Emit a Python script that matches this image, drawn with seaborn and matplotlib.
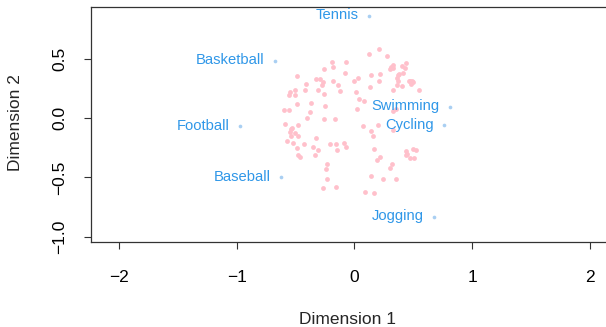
import matplotlib
matplotlib.use("Agg")
import matplotlib.pyplot as plt
import seaborn as sns
import pandas as pd

# Column (sport) coordinates on the first two dimensions
sports = ["Tennis", "Basketball", "Football", "Baseball", "Swimming", "Cycling", "Jogging"]
sport_dim1 = [0.12, -0.68, -0.97, -0.625, 0.81, 0.76, 0.68]
sport_dim2 = [0.86, 0.48, -0.07, -0.50, 0.095, -0.06, -0.83]

# Row (respondent) coordinates
resp_dim1 = [
    -0.19, -0.07, -0.26, -0.18, -0.08, -0.49, -0.33, -0.29, -0.18, -0.41,
    -0.27, -0.28, -0.14, 0.00, 0.03, -0.51, -0.42, -0.31, -0.55, -0.56,
    -0.51, -0.26, -0.12, 0.01, 0.04, 0.08, -0.37, -0.49, -0.25, 0.02,
    -0.60, -0.56, -0.38, -0.40, -0.26, -0.17, 0.21, 0.12, 0.28, 0.44,
    0.40, 0.33, 0.31, 0.30, 0.33, 0.43, 0.14, 0.22, 0.38, 0.41,
    0.37, 0.36, 0.21, 0.37, 0.36, 0.40, 0.46, 0.47, 0.49, 0.48,
    0.50, 0.13, 0.33, 0.55, 0.33, -0.59, -0.53, -0.48, -0.54, -0.55,
    -0.51, -0.48, -0.54, -0.33, -0.57, -0.52, -0.43, -0.35, -0.49, -0.31,
    -0.21, -0.16, -0.09, -0.07, -0.15, -0.48, -0.46, -0.34, -0.23, -0.24,
    -0.23, -0.27, -0.16, 0.07, 0.14, 0.20, 0.16, 0.33, 0.17, 0.19,
    0.22, 0.30, 0.32, 0.44, 0.44, 0.45, 0.50, 0.52, 0.47, 0.51,
    0.14, 0.24, 0.35, 0.09, 0.17, 0.35,
]
resp_dim2 = [
    0.47, 0.47, 0.41, 0.43, 0.38, 0.35, 0.33, 0.33, 0.31, 0.29,
    0.30, 0.28, 0.28, 0.31, 0.34, 0.24, 0.24, 0.24, 0.22, 0.19,
    0.19, 0.20, 0.23, 0.22, 0.16, 0.14, 0.13, 0.12, 0.10, 0.08,
    0.07, 0.07, 0.05, 0.00, -0.01, -0.01, 0.58, 0.54, 0.52, 0.46,
    0.44, 0.45, 0.43, 0.41, 0.42, 0.42, 0.36, 0.37, 0.37, 0.38,
    0.36, 0.34, 0.31, 0.31, 0.28, 0.27, 0.31, 0.31, 0.31, 0.29,
    0.30, 0.26, 0.24, 0.24, 0.06, -0.05, -0.08, -0.06, -0.09, -0.12,
    -0.13, -0.15, -0.15, -0.17, -0.19, -0.21, -0.22, -0.24, -0.25, -0.27,
    -0.22, -0.22, -0.21, -0.24, -0.27, -0.31, -0.33, -0.31, -0.39, -0.43,
    -0.51, -0.59, -0.58, -0.07, -0.11, -0.06, -0.15, -0.10, -0.26, -0.35,
    -0.33, -0.42, -0.39, -0.28, -0.31, -0.30, -0.26, -0.27, -0.34, -0.34,
    -0.49, -0.51, -0.51, -0.62, -0.63, 0.08,
]

x_ticks = [-2, -1, 0, 1, 2]
y_ticks = [-1.0, -0.5, 0.0, 0.5]
x_tick_labels = ["\u22122", "\u22121", "0", "1", "2"]
y_tick_labels = ["\u22121.0", "\u22120.5", "0.0", "0.5"]

resp = pd.DataFrame({"Dimension 1": resp_dim1, "Dimension 2": resp_dim2})
cols = pd.DataFrame({"sport": sports, "Dimension 1": sport_dim1, "Dimension 2": sport_dim2})

sns.set_style("white")
plt.rcParams["font.family"] = ["Liberation Sans", "DejaVu Sans"]

W, H = 606, 327
fig = plt.figure(figsize=(W / 100, H / 100), dpi=100)
ax = fig.add_axes([91 / W, (H - 241.7) / H, (608 - 91) / W, 235 / H])

sns.scatterplot(data=resp, x="Dimension 1", y="Dimension 2", ax=ax,
                color="#FFC0CB", s=12, linewidth=0, legend=False)
sns.scatterplot(data=cols, x="Dimension 1", y="Dimension 2", ax=ax,
                color="#A9CFF2", s=7, linewidth=0, legend=False)

label_color = "#2F97E8"
for name, x, y in zip(cols["sport"], cols["Dimension 1"], cols["Dimension 2"]):
    ax.annotate(name, (x, y), xytext=(-7.5, 1.5), textcoords="offset points",
                ha="right", va="center_baseline", fontsize=10.6, color=label_color)

ax.set_xlim(-2.241, 2.156)
ax.set_ylim(-1.042, 0.938)

ax.set_xticks(x_ticks)
ax.set_xticklabels(x_tick_labels)
ax.set_yticks(y_ticks)
ax.set_yticklabels(y_tick_labels, rotation=90, va="center")

ax.tick_params(axis="both", which="major", direction="out", length=5, width=0.8,
               color="#333333", labelsize=12.5, labelcolor="black",
               bottom=True, left=True, top=False, right=False)
ax.tick_params(axis="x", pad=15.5)
ax.tick_params(axis="y", pad=12)

for sp in ax.spines.values():
    sp.set_visible(True)
    sp.set_color("#333333")
    sp.set_linewidth(0.9)

ax.set_xlabel("Dimension 1", fontsize=12.5)
ax.set_ylabel("Dimension 2", fontsize=12.5)
ax.xaxis.label.set_verticalalignment("center")
ax.xaxis.set_label_coords((347 - 91) / (608 - 91), -(319 - 241.7) / 235)
ax.yaxis.set_label_coords(-(91 - 15.5) / (608 - 91), (241.7 - 123) / 235)
ax.yaxis.label.set_verticalalignment("center")

fig.savefig("out.png", dpi=100)
